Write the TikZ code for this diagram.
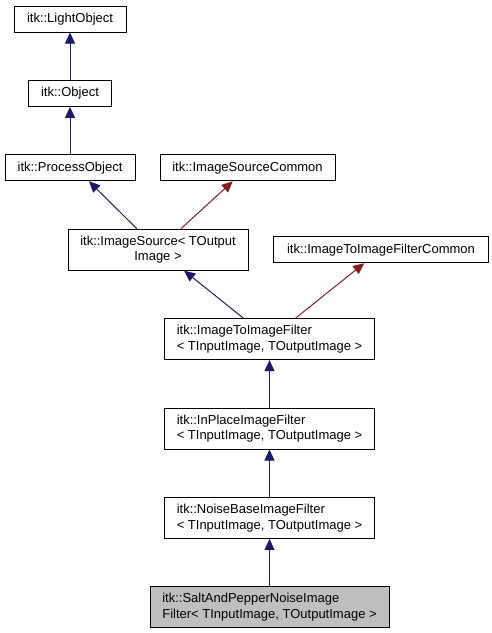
\documentclass[tikz,border=0pt]{standalone}
\usepackage{fontspec}
\setmainfont{Liberation Sans}
\usepackage{tikz}
\usetikzlibrary{arrows.meta,positioning}
\definecolor{edgeblue}{RGB}{25,25,112}
\definecolor{edgered}{RGB}{139,26,26}
\definecolor{nodegray}{RGB}{191,191,191}

\begin{document}
\begin{tikzpicture}[x=1pt, y=-1pt,
    font=\fontsize{13}{15.5}\selectfont,
    cls/.style={rectangle, draw, line width=1pt, minimum height=26pt, inner sep=0pt},
    tcls/.style={cls, minimum height=41pt, align=left},
    inherit/.style={-{Triangle[length=11pt, width=10pt]}, edgeblue, line width=1pt},
    usage/.style={-{Triangle[length=11pt, width=10pt]}, edgered, line width=1pt}
]
\useasboundingbox (0,0) rectangle (492,633);

% base classes
\node[cls, minimum width=112pt] (lightobj) at (70,19) {itk::LightObject};
\node[cls, minimum width=83pt] (object) at (70,93.4) {itk::Object};
\node[cls, minimum width=130pt] (procobj) at (70,167.8) {itk::ProcessObject};
\node[cls, minimum width=175pt] (srccommon) at (247.5,167.8) {itk::ImageSourceCommon};

% image source level
\node[tcls, minimum width=180pt, align=center] (imgsrc) at (158,249.7) {itk::ImageSource< TOutput\\Image >};
\node[cls, minimum width=215pt] (filtcommon) at (381,249.7) {itk::ImageToImageFilterCommon};

% filter chain
\node[tcls, minimum width=210pt] (imgfilter) at (269.5,339.1) {itk::ImageToImageFilter\\< TInputImage, TOutputImage >};
\node[tcls, minimum width=210pt] (inplace) at (269.5,428.5) {itk::InPlaceImageFilter\\< TInputImage, TOutputImage >};
\node[tcls, minimum width=210pt] (noisebase) at (269.5,517.9) {itk::NoiseBaseImageFilter\\< TInputImage, TOutputImage >};
\node[tcls, minimum width=239pt, fill=nodegray] (saltpepper) at (269.5,607.3) {itk::SaltAndPepperNoiseImage\\Filter< TInputImage, TOutputImage >};

% inheritance
\draw[inherit] (object) -- (lightobj);
\draw[inherit] (procobj) -- (object);
\draw[inherit] (imgsrc) -- ([xshift=19pt]procobj.south);
\draw[usage] (imgsrc) -- (srccommon);
\draw[inherit] (imgfilter) -- (imgsrc);
\draw[usage] (imgfilter) -- (filtcommon);
\draw[inherit] (inplace) -- (imgfilter);
\draw[inherit] (noisebase) -- (inplace);
\draw[inherit] (saltpepper) -- (noisebase);

\end{tikzpicture}
\end{document}
